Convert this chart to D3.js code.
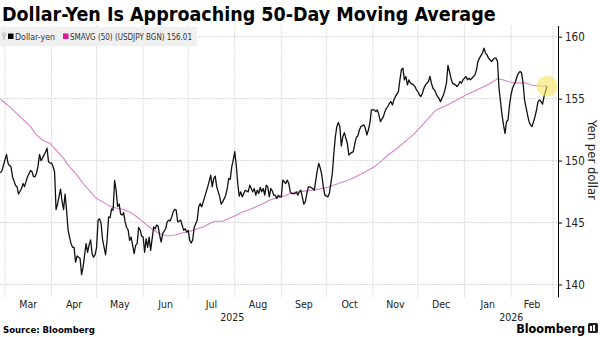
<!DOCTYPE html>
<html>
<head>
<meta charset="utf-8">
<title>Dollar-Yen</title>
<script src="https://cdn.jsdelivr.net/npm/d3@7"></script>
<style>
  body { margin: 0; background: #fff; }
  svg text { font-family: "DejaVu Sans Condensed", "DejaVu Sans", sans-serif; }
</style>
</head>
<body>
<div id="chart"></div>
<script>
// USD/JPY close, [date, yen per dollar]
var dollarYen = [
  ["2025-02-26",149.0],["2025-02-27",149.2],["2025-03-02",150.5],["2025-03-03",149.8],["2025-03-04",149.6],
  ["2025-03-05",149.5],["2025-03-06",148.7],["2025-03-08",148.0],["2025-03-09",147.9],["2025-03-10",147.3],
  ["2025-03-12",147.75],["2025-03-13",148.15],["2025-03-14",147.9],["2025-03-15",148.3],["2025-03-16",148.7],
  ["2025-03-18",149.2],["2025-03-19",149.1],["2025-03-20",148.7],["2025-03-21",148.7],["2025-03-22",149.0],
  ["2025-03-23",149.55],["2025-03-24",150.5],["2025-03-25",150.0],["2025-03-26",150.2],["2025-03-28",150.7],
  ["2025-03-29",151.0],["2025-03-30",149.9],["2025-03-31",149.8],["2025-04-01",149.8],["2025-04-02",149.5],
  ["2025-04-03",149.1],["2025-04-04",146.05],["2025-04-05",146.5],["2025-04-07",147.7],["2025-04-08",146.7],
  ["2025-04-09",146.05],["2025-04-10",147.3],["2025-04-11",146.0],["2025-04-12",144.4],["2025-04-13",143.8],
  ["2025-04-14",143.3],["2025-04-15",143.0],["2025-04-16",143.0],["2025-04-17",141.8],["2025-04-18",142.3],
  ["2025-04-19",142.2],["2025-04-20",142.1],["2025-04-21",140.8],["2025-04-22",141.4],["2025-04-23",142.35],
  ["2025-04-24",143.3],["2025-04-25",142.6],["2025-04-26",143.2],["2025-04-27",143.6],["2025-04-28",142.5],
  ["2025-04-29",142.2],["2025-04-30",142.4],["2025-05-01",143.0],["2025-05-02",145.2],["2025-05-03",145.3],
  ["2025-05-04",144.9],["2025-05-05",143.6],["2025-05-07",142.4],["2025-05-08",143.6],["2025-05-09",145.45],
  ["2025-05-10",145.4],["2025-05-11",146.1],["2025-05-12",146.0],["2025-05-13",148.4],["2025-05-14",147.6],
  ["2025-05-15",146.3],["2025-05-16",146.5],["2025-05-17",145.7],["2025-05-18",145.6],["2025-05-19",145.8],
  ["2025-05-20",145.05],["2025-05-21",144.6],["2025-05-22",144.4],["2025-05-23",143.56],["2025-05-24",143.83],
  ["2025-05-25",143.16],["2025-05-26",142.5],["2025-05-27",143.16],["2025-05-28",143.3],["2025-05-29",144.6],
  ["2025-05-30",144.4],["2025-05-31",143.9],["2025-06-01",143.83],["2025-06-02",142.6],["2025-06-03",143.7],
  ["2025-06-04",143.0],["2025-06-05",143.83],["2025-06-06",142.75],["2025-06-07",143.7],["2025-06-08",144.64],
  ["2025-06-09",144.5],["2025-06-10",144.8],["2025-06-11",144.7],["2025-06-12",143.97],["2025-06-13",143.43],
  ["2025-06-14",144.1],["2025-06-16",144.5],["2025-06-17",145.05],["2025-06-18",145.2],["2025-06-19",145.13],
  ["2025-06-20",145.45],["2025-06-21",145.86],["2025-06-22",146.07],["2025-06-23",146.0],["2025-06-24",145.05],
  ["2025-06-26",145.2],["2025-06-27",144.78],["2025-06-28",144.37],["2025-06-29",144.5],["2025-06-30",144.24],
  ["2025-07-01",144.37],["2025-07-02",143.56],["2025-07-03",143.35],["2025-07-04",143.6],["2025-07-05",144.6],
  ["2025-07-07",145.18],["2025-07-08",146.27],["2025-07-09",146.53],["2025-07-10",146.27],["2025-07-12",147.07],
  ["2025-07-13",147.48],["2025-07-14",147.88],["2025-07-16",148.83],["2025-07-17",147.88],["2025-07-18",148.56],
  ["2025-07-19",148.75],["2025-07-20",147.88],["2025-07-22",147.07],["2025-07-23",146.48],["2025-07-24",146.67],
  ["2025-07-26",147.21],["2025-07-27",147.75],["2025-07-28",148.56],["2025-07-29",148.48],["2025-07-30",149.5],
  ["2025-07-31",150.04],["2025-08-01",150.72],["2025-08-02",149.64],["2025-08-03",148.15],["2025-08-04",147.13],
  ["2025-08-05",147.48],["2025-08-06",147.07],["2025-08-07",147.34],["2025-08-08",147.61],["2025-08-10",147.48],
  ["2025-08-11",148.02],["2025-08-12",147.75],["2025-08-13",147.48],["2025-08-14",147.75],["2025-08-15",147.21],
  ["2025-08-16",147.61],["2025-08-17",147.34],["2025-08-18",147.83],["2025-08-19",147.48],["2025-08-20",147.75],
  ["2025-08-21",147.21],["2025-08-22",148.02],["2025-08-23",147.88],["2025-08-24",147.07],["2025-08-25",147.75],
  ["2025-08-26",147.56],["2025-08-27",147.21],["2025-08-28",147.21],["2025-08-29",146.94],["2025-08-30",147.21],
  ["2025-08-31",147.07],["2025-09-01",147.07],["2025-09-02",148.42],["2025-09-04",148.15],["2025-09-05",148.42],
  ["2025-09-06",148.15],["2025-09-07",147.48],["2025-09-08",147.34],["2025-09-09",147.34],["2025-09-10",147.34],
  ["2025-09-11",147.48],["2025-09-12",147.21],["2025-09-13",147.48],["2025-09-14",147.61],["2025-09-15",147.07],
  ["2025-09-16",146.48],["2025-09-17",146.67],["2025-09-18",147.34],["2025-09-19",147.88],["2025-09-20",147.88],
  ["2025-09-22",147.75],["2025-09-23",147.61],["2025-09-24",148.42],["2025-09-25",149.23],["2025-09-26",149.77],
  ["2025-09-27",149.37],["2025-09-28",148.83],["2025-09-29",147.88],["2025-09-30",147.21],["2025-10-02",147.07],
  ["2025-10-03",147.34],["2025-10-05",148.96],["2025-10-06",150.58],["2025-10-07",151.93],["2025-10-08",152.74],
  ["2025-10-09",153.07],["2025-10-10",152.74],["2025-10-11",151.18],["2025-10-12",151.93],["2025-10-13",152.26],
  ["2025-10-14",151.8],["2025-10-15",151.39],["2025-10-16",150.45],["2025-10-17",150.58],["2025-10-19",150.72],
  ["2025-10-20",151.39],["2025-10-21",151.88],["2025-10-22",151.99],["2025-10-23",152.47],["2025-10-24",152.74],
  ["2025-10-26",152.88],["2025-10-27",152.61],["2025-10-28",152.07],["2025-10-29",152.47],["2025-10-30",153.01],
  ["2025-10-31",154.09],["2025-11-01",154.09],["2025-11-02",154.09],["2025-11-03",153.95],["2025-11-04",154.09],
  ["2025-11-05",153.69],["2025-11-06",153.14],["2025-11-08",153.55],["2025-11-09",153.95],["2025-11-10",154.22],
  ["2025-11-11",154.36],["2025-11-12",154.63],["2025-11-13",154.76],["2025-11-14",154.49],["2025-11-15",154.9],
  ["2025-11-16",155.17],["2025-11-18",155.57],["2025-11-19",156.52],["2025-11-20",157.33],["2025-11-21",157.46],
  ["2025-11-22",156.52],["2025-11-23",156.79],["2025-11-24",156.11],["2025-11-25",156.52],["2025-11-26",156.25],
  ["2025-11-28",156.11],["2025-11-29",155.98],["2025-11-30",155.71],["2025-12-01",155.57],["2025-12-02",155.3],
  ["2025-12-03",155.17],["2025-12-04",155.44],["2025-12-05",155.84],["2025-12-06",156.11],["2025-12-08",156.38],
  ["2025-12-09",156.79],["2025-12-10",156.25],["2025-12-11",155.84],["2025-12-12",155.71],["2025-12-13",155.44],
  ["2025-12-14",155.17],["2025-12-15",155.03],["2025-12-16",154.76],["2025-12-18",155.3],["2025-12-19",155.71],
  ["2025-12-20",156.25],["2025-12-21",157.68],["2025-12-22",157.19],["2025-12-23",156.65],["2025-12-24",156.25],
  ["2025-12-26",156.11],["2025-12-27",155.98],["2025-12-28",156.11],["2025-12-29",156.38],["2025-12-30",156.25],
  ["2025-12-31",156.52],["2026-01-01",156.65],["2026-01-02",156.79],["2026-01-03",156.52],["2026-01-04",156.65],
  ["2026-01-05",156.52],["2026-01-07",156.79],["2026-01-08",156.92],["2026-01-09",157.33],["2026-01-10",158.0],
  ["2026-01-11",158.27],["2026-01-13",158.68],["2026-01-14",159.08],["2026-01-15",158.68],["2026-01-16",158.54],
  ["2026-01-17",158.27],["2026-01-18",158.14],["2026-01-19",158.0],["2026-01-20",158.14],["2026-01-21",158.27],
  ["2026-01-22",158.27],["2026-01-23",158.0],["2026-01-24",155.84],["2026-01-26",153.69],["2026-01-27",152.88],
  ["2026-01-28",152.2],["2026-01-29",153.14],["2026-01-30",153.28],["2026-01-31",154.49],["2026-02-01",155.3],
  ["2026-02-02",155.84],["2026-02-04",156.38],["2026-02-05",156.79],["2026-02-06",157.06],["2026-02-07",157.19],
  ["2026-02-08",157.1],["2026-02-09",156.3],["2026-02-10",154.9],["2026-02-12",153.69],["2026-02-13",153.14],
  ["2026-02-14",152.88],["2026-02-15",152.74],["2026-02-16",153.14],["2026-02-17",153.55],["2026-02-18",154.09],
  ["2026-02-19",154.76],["2026-02-20",154.9],["2026-02-21",154.76],["2026-02-22",154.55],["2026-02-23",155.17],
  ["2026-02-25",156.0]
];

// SMAVG (50), [date, value]
var movingAvg = [
  ["2025-02-26",154.95],["2025-03-04",154.36],["2025-03-11",153.55],["2025-03-18",152.74],["2025-03-22",152.07],
  ["2025-03-26",151.66],["2025-03-31",151.39],["2025-04-04",150.85],["2025-04-09",150.18],["2025-04-13",149.5],
  ["2025-04-18",148.83],["2025-04-22",148.15],["2025-04-27",147.48],["2025-05-01",146.94],["2025-05-05",146.67],
  ["2025-05-10",146.32],["2025-05-14",146.18],["2025-05-19",146.05],["2025-05-23",145.86],["2025-05-28",145.45],
  ["2025-06-01",145.05],["2025-06-05",144.64],["2025-06-10",144.24],["2025-06-14",144.02],["2025-06-18",143.92],
  ["2025-06-23",144.02],["2025-06-27",144.16],["2025-07-02",144.29],["2025-07-06",144.46],["2025-07-11",144.64],
  ["2025-07-15",144.91],["2025-07-19",145.1],["2025-07-24",145.1],["2025-07-28",145.32],["2025-08-02",145.59],
  ["2025-08-06",145.86],["2025-08-11",146.05],["2025-08-15",146.27],["2025-08-20",146.53],["2025-08-24",146.8],
  ["2025-08-29",146.99],["2025-09-03",147.15],["2025-09-08",147.4],["2025-09-14",147.5],["2025-09-20",147.6],
  ["2025-09-26",147.7],["2025-10-02",147.85],["2025-10-09",148.15],["2025-10-14",148.35],["2025-10-19",148.6],
  ["2025-10-27",149.1],["2025-11-02",149.5],["2025-11-06",149.9],["2025-11-11",150.45],["2025-11-17",150.98],
  ["2025-11-21",151.39],["2025-11-28",152.1],["2025-12-02",152.6],["2025-12-06",153.14],["2025-12-13",154.09],
  ["2025-12-20",154.45],["2025-12-23",154.65],["2025-12-29",155.03],["2026-01-02",155.3],["2026-01-07",155.57],
  ["2026-01-14",155.98],["2026-01-17",156.15],["2026-01-23",156.6],["2026-01-26",156.55],["2026-01-30",156.38],
  ["2026-02-04",156.27],["2026-02-10",156.28],["2026-02-15",156.08],["2026-02-20",156.02],["2026-02-25",156.01]
];

var yTicks = [140, 145, 150, 155, 160];
var monthNames = ["Mar", "Apr", "May", "Jun", "Jul", "Aug", "Sep", "Oct", "Nov", "Dec", "Jan", "Feb"];
var yearNames = ["2025", "2026"];
var seriesNames = ["Dollar-yen", "SMAVG (50) (USDJPY BGN) 156.01"];

var W = 600, H = 337;
var parse = d3.timeParse("%Y-%m-%d");
var fx = dollarYen.map(function(d) { return { date: parse(d[0]), value: d[1] }; });
var ma = movingAvg.map(function(d) { return { date: parse(d[0]), value: d[1] }; });

var svg = d3.select("#chart").append("svg")
  .attr("width", W)
  .attr("height", H);

var plotRight = 558;

var x = d3.scaleTime()
  .domain([new Date(2025, 1, 25, 16), new Date(2026, 2, 4, 7)])
  .range([0, plotRight]);

var y = d3.scaleLinear()
  .domain([139, 160.9])
  .range([296.9, 25.55]);

// grid: horizontal at each tick, vertical at month starts
var monthStarts = d3.timeMonth.range(new Date(2025, 2, 1), new Date(2026, 2, 2));

svg.append("g").selectAll("line")
  .data(yTicks)
  .enter().append("line")
  .attr("x1", 0).attr("x2", plotRight)
  .attr("y1", function(d) { return y(d); })
  .attr("y2", function(d) { return y(d); })
  .attr("stroke", "#d8d8d8")
  .attr("stroke-dasharray", "2,1");

svg.append("g").selectAll("line")
  .data(monthStarts)
  .enter().append("line")
  .attr("x1", function(d) { return x(d); })
  .attr("x2", function(d) { return x(d); })
  .attr("y1", y(160.9)).attr("y2", y(139))
  .attr("stroke", "#d8d8d8")
  .attr("stroke-dasharray", "2,1");

// title
svg.append("text")
  .attr("x", 2).attr("y", 21)
  .style("font-weight", "bold")
  .style("font-size", "19.5px")
  .attr("fill", "#000")
  .text("Dollar-Yen Is Approaching 50-Day Moving Average");

// legend
var legend = svg.append("g");
legend.append("rect")
  .attr("x", 0).attr("y", 27).attr("width", 197).attr("height", 19)
  .attr("fill", "#f0f0f0");
legend.append("line")
  .attr("x1", 4).attr("x2", 4).attr("y1", 35).attr("y2", 40)
  .attr("stroke", "#aaa");
legend.append("circle")
  .attr("cx", 4).attr("cy", 34.5).attr("r", 1.6)
  .attr("fill", "none").attr("stroke", "#aaa").attr("stroke-width", 0.8);
var legendItems = [
  { x: 8, color: "#000", label: seriesNames[0], width: 40 },
  { x: 63, color: "#e0199b", label: seriesNames[1], width: 122 }
];
legendItems.forEach(function(it) {
  legend.append("rect")
    .attr("x", it.x).attr("y", 33.5).attr("width", 5.5).attr("height", 5.5)
    .attr("fill", it.color);
  legend.append("text")
    .attr("x", it.x + 7).attr("y", 40)
    .attr("textLength", it.width)
    .attr("lengthAdjust", "spacingAndGlyphs")
    .style("font-size", "9.5px")
    .attr("fill", "#333")
    .text(it.label);
});

// series
var line = d3.line()
  .x(function(d) { return x(d.date); })
  .y(function(d) { return y(d.value); });

svg.append("path")
  .datum(ma)
  .attr("d", line)
  .attr("fill", "none")
  .attr("stroke", "#d684cb")
  .attr("stroke-width", 1.1);

svg.append("path")
  .datum(fx)
  .attr("d", line)
  .attr("fill", "none")
  .attr("stroke", "#111")
  .attr("stroke-width", 1.3)
  .attr("stroke-linejoin", "round");

// highlight on the latest reading
var last = fx[fx.length - 1];
svg.append("circle")
  .attr("cx", x(last.date)).attr("cy", y(last.value))
  .attr("r", 10.5)
  .attr("fill", "#f6e45c")
  .attr("opacity", 0.6);

// right axis
var yAxis = svg.append("g")
  .attr("transform", "translate(" + plotRight + ",0)")
  .call(d3.axisRight(y).tickValues(yTicks).tickSize(4).tickSizeOuter(0).tickPadding(3));
yAxis.select(".domain").attr("stroke", "#000");
yAxis.selectAll(".tick line").attr("stroke", "#000");
yAxis.selectAll(".tick text")
  .style("font-family", "'DejaVu Sans Condensed', 'DejaVu Sans', sans-serif")
  .style("font-size", "11.5px")
  .attr("fill", "#222");

svg.append("text")
  .attr("transform", "translate(588," + y(150.05) + ") rotate(90)")
  .attr("text-anchor", "middle")
  .style("font-size", "13px")
  .attr("fill", "#222")
  .text("Yen per dollar");

// month labels centred in each month
svg.append("g").selectAll("text")
  .data(monthStarts.slice(0, 12))
  .enter().append("text")
  .attr("x", function(d, i) { return (x(d) + x(monthStarts[i + 1])) / 2; })
  .attr("y", 308)
  .attr("text-anchor", "middle")
  .style("font-size", "10.5px")
  .attr("fill", "#222")
  .text(function(d, i) { return monthNames[i]; });

// year labels centred on each year's visible span
var yearBreak = x(new Date(2026, 0, 1));
var yearSpans = [[0, yearBreak], [yearBreak, plotRight]];
svg.append("g").selectAll("text")
  .data(yearNames)
  .enter().append("text")
  .attr("x", function(d, i) { return (yearSpans[i][0] + yearSpans[i][1]) / 2; })
  .attr("y", 321)
  .attr("text-anchor", "middle")
  .style("font-size", "10.5px")
  .attr("fill", "#222")
  .text(function(d) { return d; });

// footer
svg.append("text")
  .attr("x", 3).attr("y", 333)
  .style("font-weight", "bold")
  .style("font-size", "9.5px")
  .attr("fill", "#000")
  .text("Source: Bloomberg");

svg.append("text")
  .attr("x", 585).attr("y", 333)
  .attr("text-anchor", "end")
  .style("font-weight", "bold")
  .style("font-size", "12.5px")
  .attr("fill", "#000")
  .text("Bloomberg");

var logo = svg.append("g").attr("transform", "translate(588,323)");
logo.append("rect").attr("width", 10).attr("height", 10).attr("rx", 1.5).attr("fill", "#222");
logo.append("rect").attr("x", 2).attr("y", 3).attr("width", 2).attr("height", 5).attr("fill", "#fff");
logo.append("rect").attr("x", 5).attr("y", 2).attr("width", 2).attr("height", 6).attr("fill", "#fff");
</script>
</body>
</html>
